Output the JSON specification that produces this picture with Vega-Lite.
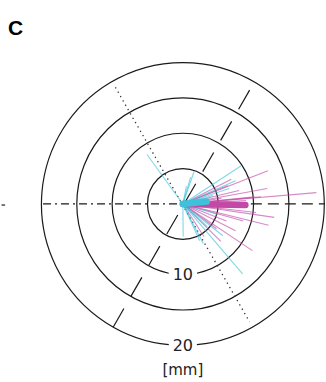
{
  "$schema": "https://vega.github.io/schema/vega-lite/v6.json",
  "width": 326,
  "height": 382,
  "autosize": {"type": "fit", "contains": "padding"},
  "padding": 0,
  "background": "white",
  "config": {"view": {"stroke": null}},
  "encoding": {
    "x": {"type": "quantitative", "scale": {"domain": [-25.88, 20.23], "nice": false, "zero": false}, "axis": null},
    "y": {"type": "quantitative", "scale": {"domain": [-25.18, 28.85], "nice": false, "zero": false}, "axis": null}
  },
  "layer": [
    {
      "data": {"values": [
        {"r": 5, "t1": 0, "t2": 360},
        {"r": 10, "t1": -168.5, "t2": 168.5},
        {"r": 15, "t1": 0, "t2": 360},
        {"r": 20, "t1": -174.3, "t2": 174.3}
      ]},
      "mark": {"type": "arc", "filled": false, "stroke": "#1a1a1a", "strokeWidth": 1.2},
      "encoding": {
        "x": {"datum": 0, "type": "quantitative"},
        "y": {"datum": 0, "type": "quantitative"},
        "theta": {"field": "t1", "type": "quantitative", "stack": null, "scale": {"type": "linear", "domain": [0, 360], "range": [0, 6.283185]}},
        "theta2": {"field": "t2"},
        "radius": {"field": "r", "type": "quantitative", "scale": {"type": "linear", "domain": [0, 20], "range": [0, 141.4], "zero": true}},
        "radius2": {"field": "r"}
      }
    },
    {
      "data": {"values": [
        {"x1": -19.9, "y1": 0, "x2": 0, "y2": 0}
      ]},
      "mark": {"type": "rule", "stroke": "#1a1a1a", "strokeWidth": 1.2, "strokeDash": [8, 4, 2, 4]},
      "encoding": {
        "x": {"field": "x1", "type": "quantitative"},
        "y": {"field": "y1", "type": "quantitative"},
        "x2": {"field": "x2"},
        "y2": {"field": "y2"}
      }
    },
    {
      "data": {"values": [
        {"x1": -25.8, "y1": -0.15, "x2": -25.3, "y2": -0.15}
      ]},
      "mark": {"type": "rule", "stroke": "#1a1a1a", "strokeWidth": 1.2},
      "encoding": {
        "x": {"field": "x1", "type": "quantitative"},
        "y": {"field": "y1", "type": "quantitative"},
        "x2": {"field": "x2"},
        "y2": {"field": "y2"}
      }
    },
    {
      "data": {"values": [
        {"x1": 0, "y1": 0, "x2": 20.2, "y2": 0}
      ]},
      "mark": {"type": "rule", "stroke": "#1a1a1a", "strokeWidth": 1.2, "strokeDash": [11, 6]},
      "encoding": {
        "x": {"field": "x1", "type": "quantitative"},
        "y": {"field": "y1", "type": "quantitative"},
        "x2": {"field": "x2"},
        "y2": {"field": "y2"}
      }
    },
    {
      "data": {"values": [
        {"x1": 9.5, "y1": 16.1, "x2": -9.9, "y2": -17.4}
      ]},
      "mark": {"type": "rule", "stroke": "#1a1a1a", "strokeWidth": 1.2, "strokeDash": [22, 14]},
      "encoding": {
        "x": {"field": "x1", "type": "quantitative"},
        "y": {"field": "y1", "type": "quantitative"},
        "x2": {"field": "x2"},
        "y2": {"field": "y2"}
      }
    },
    {
      "data": {"values": [
        {"x1": -9.6, "y1": 16.5, "x2": 9.5, "y2": -16.7}
      ]},
      "mark": {"type": "rule", "stroke": "#333333", "strokeWidth": 1.3, "strokeDash": [1.3, 3.7]},
      "encoding": {
        "x": {"field": "x1", "type": "quantitative"},
        "y": {"field": "y1", "type": "quantitative"},
        "x2": {"field": "x2"},
        "y2": {"field": "y2"}
      }
    },
    {
      "data": {"values": [
        {"group": "B", "x": 12.1, "y": 4.7},
        {"group": "B", "x": 19.0, "y": 1.6},
        {"group": "B", "x": 12.0, "y": 2.2},
        {"group": "B", "x": 11.1, "y": 1.0},
        {"group": "B", "x": 10.2, "y": 1.0},
        {"group": "B", "x": 6.9, "y": 3.5},
        {"group": "B", "x": 6.4, "y": 2.6},
        {"group": "B", "x": 8.0, "y": 1.9},
        {"group": "B", "x": 13.0, "y": -1.9},
        {"group": "B", "x": 12.2, "y": -3.0},
        {"group": "B", "x": 10.4, "y": -1.2},
        {"group": "B", "x": 6.2, "y": -2.4},
        {"group": "B", "x": 9.9, "y": -6.6},
        {"group": "B", "x": 5.4, "y": -5.3},
        {"group": "B", "x": 7.5, "y": -3.8},
        {"group": "B", "x": 4.8, "y": -3.5},
        {"group": "B", "x": 9.0, "y": 0.5},
        {"group": "B", "x": 3.0, "y": -4.6},
        {"group": "B", "x": 5.5, "y": 0.8},
        {"group": "B", "x": 8.6, "y": -2.4},
        {"group": "A", "x": -5.1, "y": 7.0},
        {"group": "A", "x": 8.3, "y": 5.4},
        {"group": "A", "x": 6.6, "y": 2.2},
        {"group": "A", "x": 7.5, "y": 3.3},
        {"group": "A", "x": 1.6, "y": 4.6},
        {"group": "A", "x": 1.1, "y": 3.8},
        {"group": "A", "x": 0.5, "y": 2.5},
        {"group": "A", "x": 8.5, "y": -9.9},
        {"group": "A", "x": 0.05, "y": -4.6},
        {"group": "A", "x": 5.7, "y": -4.5},
        {"group": "A", "x": 2.9, "y": -5.6},
        {"group": "A", "x": 2.4, "y": -5.2},
        {"group": "A", "x": 4.3, "y": 1.2},
        {"group": "A", "x": 5.0, "y": -1.5},
        {"group": "A", "x": 3.5, "y": -3.2}
      ]},
      "mark": {"type": "rule", "strokeWidth": 1.1, "opacity": 0.65},
      "encoding": {
        "x": {"field": "x", "type": "quantitative"},
        "y": {"field": "y", "type": "quantitative"},
        "x2": {"datum": 0},
        "y2": {"datum": 0},
        "color": {"field": "group", "type": "nominal", "scale": {"domain": ["A", "B"], "range": ["#3cc3db", "#c24aa6"]}, "legend": null},
        "order": {"field": "group", "sort": "descending"}
      }
    },
    {
      "data": {"values": [
        {"group": "B", "x": 8.9, "y": -0.15},
        {"group": "A", "x": 3.4, "y": 0.35}
      ]},
      "mark": {"type": "rule", "strokeWidth": 6.5, "strokeCap": "round"},
      "encoding": {
        "x": {"field": "x", "type": "quantitative"},
        "y": {"field": "y", "type": "quantitative"},
        "x2": {"datum": 0},
        "y2": {"datum": 0},
        "color": {"field": "group", "type": "nominal", "scale": {"domain": ["A", "B"], "range": ["#2bbbd3", "#b8469f"]}, "legend": null},
        "order": {"field": "group", "sort": "descending"}
      }
    },
    {
      "data": {"values": [
        {"label": "10", "x": 0, "y": -10},
        {"label": "20", "x": 0, "y": -20.1}
      ]},
      "mark": {"type": "text", "font": "DejaVu Sans", "fontSize": 16, "color": "#222222", "baseline": "middle", "align": "center"},
      "encoding": {
        "x": {"field": "x", "type": "quantitative"},
        "y": {"field": "y", "type": "quantitative"},
        "text": {"field": "label"}
      }
    },
    {
      "data": {"values": [
        {"label": "[mm]", "x": 0, "y": -23.5}
      ]},
      "mark": {"type": "text", "font": "DejaVu Sans", "fontSize": 15, "color": "#222222", "baseline": "middle", "align": "center"},
      "encoding": {
        "x": {"field": "x", "type": "quantitative"},
        "y": {"field": "y", "type": "quantitative"},
        "text": {"field": "label"}
      }
    },
    {
      "data": {"values": [
        {"label": "C", "x": -24.9, "y": 23.9}
      ]},
      "mark": {"type": "text", "font": "Liberation Sans", "fontWeight": "bold", "fontSize": 21, "color": "#000000", "baseline": "alphabetic", "align": "left"},
      "encoding": {
        "x": {"field": "x", "type": "quantitative"},
        "y": {"field": "y", "type": "quantitative"},
        "text": {"field": "label"}
      }
    }
  ]
}
